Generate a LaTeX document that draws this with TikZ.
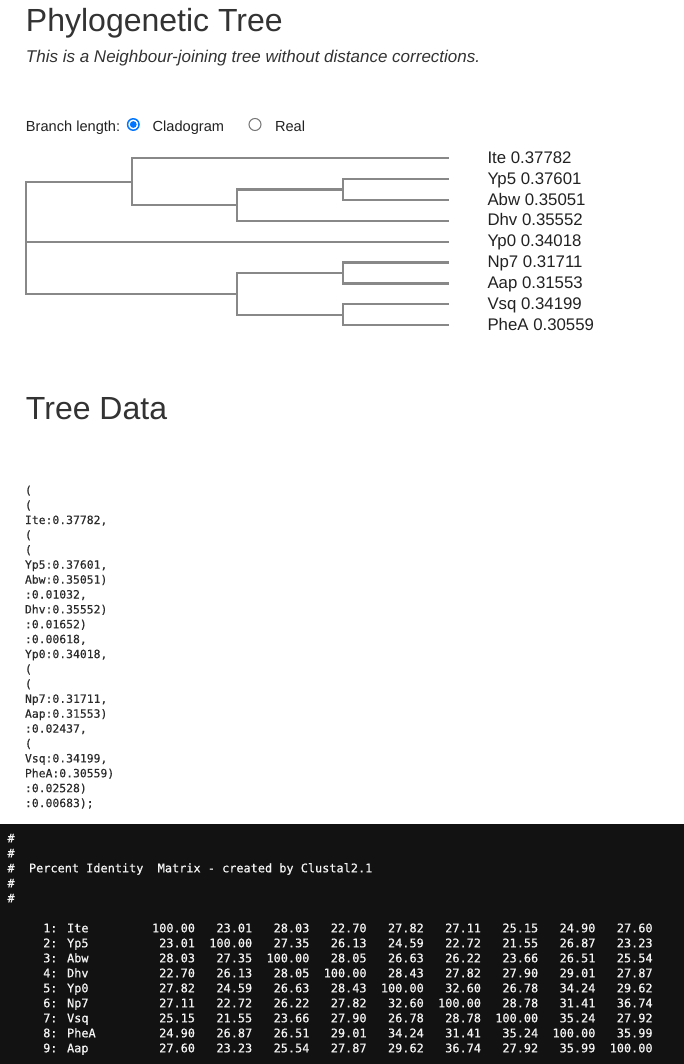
\documentclass[tikz,border=0pt]{standalone}
\usepackage{fontspec}
\setmainfont{Liberation Sans}
\newfontfamily\codefont[FakeBold=0.3]{DejaVu Sans Mono}
\newfontfamily\matfont[FakeBold=0.6]{DejaVu Sans Mono}
\definecolor{headc}{HTML}{333333}
\definecolor{formc}{HTML}{222222}
\definecolor{labc}{HTML}{222222}
\definecolor{codec}{HTML}{2B2B2B}
\definecolor{darkbg}{HTML}{121212}
\definecolor{matc}{HTML}{F4F4F4}
\definecolor{branchc}{HTML}{888888}
\definecolor{radioblue}{HTML}{0075FF}
\definecolor{radiogray}{HTML}{767676}
\begin{document}
\begin{tikzpicture}[x=0.75pt,y=-0.75pt,
  txt/.style={anchor=base west, inner sep=0pt, outer sep=0pt},
  heading/.style={txt, text=headc, font=\fontsize{24}{28}\selectfont},
  subheading/.style={txt, text=headc, font=\fontsize{12.75}{15}\selectfont\itshape},
  formtxt/.style={txt, text=formc, font=\fontsize{10.95}{13}\selectfont},
  leaflab/.style={txt, text=labc, font=\fontsize{12.6}{15}\selectfont},
  branch/.style={draw=branchc, line width=1.75pt},
  treedata/.style={txt, text=codec, font=\codefont\fontsize{8.55}{11}\selectfont},
  mattxt/.style={txt, text=matc, font=\matfont\fontsize{8.91}{11}\selectfont},
  matnum/.style={mattxt, anchor=base east},
  radioon/.style={circle, draw=radioblue, line width=1.1pt, fill=white, minimum size=8.6pt, inner sep=0pt},
  radiodot/.style={circle, fill=radioblue, minimum size=5.1pt, inner sep=0pt},
  radiooff/.style={circle, draw=radiogray, line width=0.75pt, fill=white, minimum size=9pt, inner sep=0pt},
]
\useasboundingbox (0,0) rectangle (684,1064);
\fill[white] (0,0) rectangle (684,1064);

% header
\node[heading] (title) at (26,31.7) {Phylogenetic Tree};
\node[subheading] (subtitle) at (26,62.3) {This is a Neighbour-joining tree without distance corrections.};
\node[formtxt] (blen) at (26,131) {Branch length:};
\node[radioon] (radio1) at (133.3,124.5) {};
\node[radiodot] (radio1dot) at (133.3,124.5) {};
\node[formtxt] (clado) at (152.7,131) {Cladogram};
\node[radiooff] (radio2) at (255,124.5) {};
\node[formtxt] (real) at (275,131) {Real};

% tree coordinates
\coordinate (root) at (26,237.8);
\coordinate (nI) at (132,181.75);
\coordinate (nD) at (237,205.2);
\coordinate (nYA) at (343,189.6);
\coordinate (nB) at (237,293.8);
\coordinate (nNA) at (343,273);
\coordinate (nVP) at (343,314.7);
\coordinate (lIte) at (449,158.3);
\coordinate (lYp5) at (449,179.15);
\coordinate (lAbw) at (449,200);
\coordinate (lDhv) at (449,220.85);
\coordinate (lYp0) at (449,241.7);
\coordinate (lNp7) at (449,262.55);
\coordinate (lAap) at (449,283.4);
\coordinate (lVsq) at (449,304.25);
\coordinate (lPheA) at (449,325.1);

\draw[branch] (root) |- (nI);
\draw[branch] (root) |- (nB);
\draw[branch] (root) |- (lYp0);
\draw[branch] (nI) |- (lIte);
\draw[branch] (nI) |- (nD);
\draw[branch] (nD) |- (nYA);
\draw[branch] (nD) |- (lDhv);
\draw[branch] (nYA) |- (lYp5);
\draw[branch] (nYA) |- (lAbw);
\draw[branch] (nB) |- (nNA);
\draw[branch] (nB) |- (nVP);
\draw[branch] (nNA) |- (lNp7);
\draw[branch] (nNA) |- (lAap);
\draw[branch] (nVP) |- (lVsq);
\draw[branch] (nVP) |- (lPheA);

\node[leaflab] (tIte) at (487.5,163.3) {Ite 0.37782};
\node[leaflab] (tYp5) at (487.5,184.15) {Yp5 0.37601};
\node[leaflab] (tAbw) at (487.5,205) {Abw 0.35051};
\node[leaflab] (tDhv) at (487.5,225.85) {Dhv 0.35552};
\node[leaflab] (tYp0) at (487.5,246.7) {Yp0 0.34018};
\node[leaflab] (tNp7) at (487.5,267.55) {Np7 0.31711};
\node[leaflab] (tAap) at (487.5,288.4) {Aap 0.31553};
\node[leaflab] (tVsq) at (487.5,309.25) {Vsq 0.34199};
\node[leaflab] (tPheA) at (487.5,330.1) {PheA 0.30559};

% tree data
\node[heading] (tdhead) at (26,419.3) {Tree Data};
\foreach \t [count=\i] in {{(},{(},{Ite:0.37782,},{(},{(},{Yp5:0.37601,},{Abw:0.35051)},{:0.01032,},{Dhv:0.35552)},{:0.01652)},{:0.00618,},{Yp0:0.34018,},{(},{(},{Np7:0.31711,},{Aap:0.31553)},{:0.02437,},{(},{Vsq:0.34199,},{PheA:0.30559)},{:0.02528)},{:0.00683);}}
  \node[treedata] (code\i) at (25,{479.3+14.9*\i}) {\t};

% matrix
\fill[darkbg] (0,824) rectangle (684,1064);
\foreach \k in {0,...,4}
  \node[mattxt] (hash\k) at (7.5,{842.3+15*\k}) {\#};
\node[mattxt] (mtitle) at (29,872.3) {Percent Identity\ \ Matrix - created by Clustal2.1};
\foreach \lab/\vals [count=\r] in {
  {1: Ite}/{100.00,23.01,28.03,22.70,27.82,27.11,25.15,24.90,27.60},
  {2: Yp5}/{23.01,100.00,27.35,26.13,24.59,22.72,21.55,26.87,23.23},
  {3: Abw}/{28.03,27.35,100.00,28.05,26.63,26.22,23.66,26.51,25.54},
  {4: Dhv}/{22.70,26.13,28.05,100.00,28.43,27.82,27.90,29.01,27.87},
  {5: Yp0}/{27.82,24.59,26.63,28.43,100.00,32.60,26.78,34.24,29.62},
  {6: Np7}/{27.11,22.72,26.22,27.82,32.60,100.00,28.78,31.41,36.74},
  {7: Vsq}/{25.15,21.55,23.66,27.90,26.78,28.78,100.00,35.24,27.92},
  {8: PheA}/{24.90,26.87,26.51,29.01,34.24,31.41,35.24,100.00,35.99},
  {9: Aap}/{27.60,23.23,25.54,27.87,29.62,36.74,27.92,35.99,100.00}} {
  \node[mattxt] (rowlab\r) at (43.25,{917.3+15*\r}) {\lab};
  \foreach \v [count=\c] in \vals
    \node[matnum] (cell\r-\c) at ({137.8+57.2*\c},{917.3+15*\r}) {\v};
}
\end{tikzpicture}
\end{document}
